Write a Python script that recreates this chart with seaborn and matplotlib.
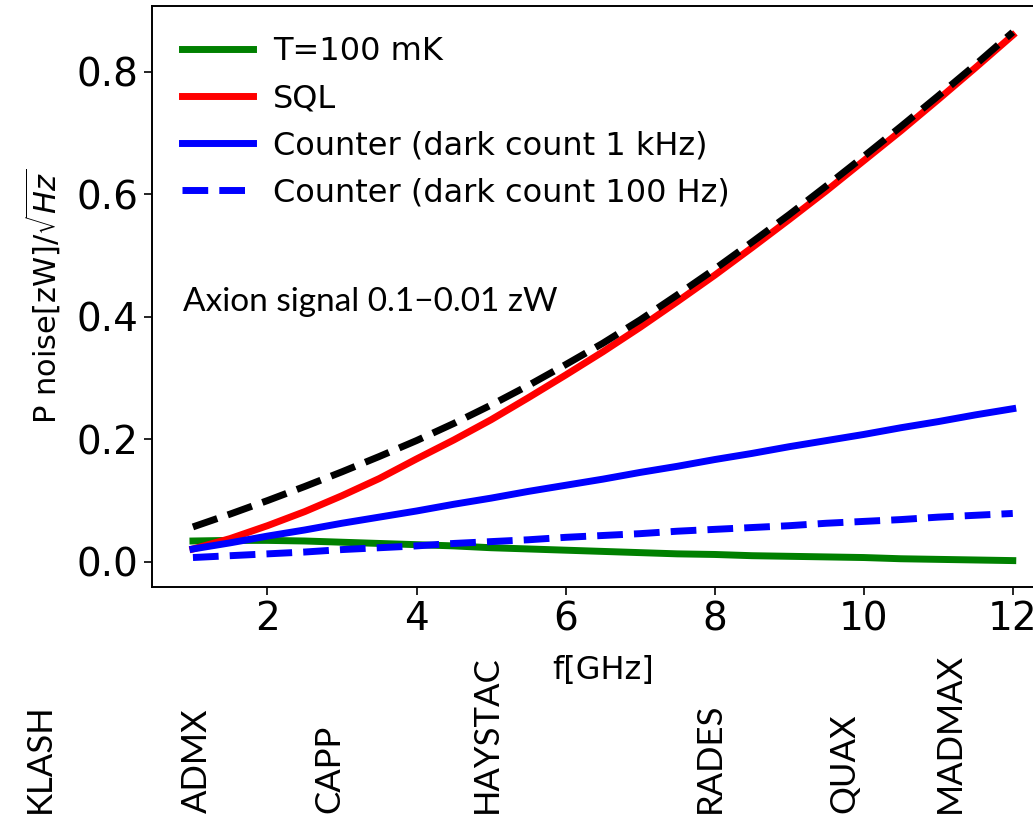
import numpy as np
import pandas as pd
import matplotlib
matplotlib.use('Agg')
import matplotlib.pyplot as plt
import seaborn as sns

#data (frequency in GHz, noise in zW/sqrt(Hz))
freq = [1.0, 1.5, 2.0, 2.5, 3.0, 3.5, 4.0, 4.5, 5.0, 5.5, 6.0, 6.5,
        7.0, 7.5, 8.0, 8.5, 9.0, 9.5, 10.0, 10.5, 11.0, 11.5, 12.0]
thermal_100mK = [0.034, 0.035, 0.035, 0.034, 0.032, 0.030, 0.028, 0.026, 0.023, 0.021, 0.019, 0.017,
                 0.015, 0.013, 0.012, 0.010, 0.009, 0.008, 0.007, 0.005, 0.004, 0.003, 0.002]
sql = [0.021, 0.038, 0.059, 0.082, 0.108, 0.136, 0.168, 0.199, 0.232, 0.268, 0.305, 0.343,
       0.383, 0.425, 0.468, 0.513, 0.559, 0.606, 0.655, 0.704, 0.755, 0.807, 0.860]
counter_1kHz = [0.021, 0.031, 0.042, 0.052, 0.063, 0.073, 0.083, 0.094, 0.104, 0.115, 0.125, 0.135,
                0.146, 0.156, 0.167, 0.177, 0.188, 0.198, 0.208, 0.219, 0.229, 0.240, 0.250]
counter_100Hz = [0.007, 0.010, 0.013, 0.016, 0.020, 0.023, 0.026, 0.030, 0.033, 0.036, 0.040, 0.043,
                 0.046, 0.050, 0.053, 0.056, 0.059, 0.063, 0.066, 0.069, 0.073, 0.076, 0.079]
total_noise = [0.057, 0.078, 0.100, 0.123, 0.147, 0.172, 0.198, 0.226, 0.256, 0.288, 0.322, 0.357,
               0.395, 0.436, 0.478, 0.522, 0.567, 0.614, 0.662, 0.711, 0.761, 0.812, 0.865]

series_labels = ['T=100 mK', 'SQL', 'Counter (dark count 1 kHz)', 'Counter (dark count 100 Hz)']

#experiments shown under the axis
experiments = ['KLASH', 'ADMX', 'CAPP', 'HAYSTAC', 'RADES', 'QUAX', 'MADMAX']
experiment_pos = [-1.05, 1.05, 2.83, 4.95, 7.93, 9.74, 11.15]

df = pd.DataFrame({'f': freq, 'thermal': thermal_100mK, 'sql': sql,
                   'c1k': counter_1kHz, 'c100': counter_100Hz, 'total': total_noise})

fig = plt.figure(figsize=(10.33, 8.21), dpi=100)
ax = fig.add_axes([0.1471, 0.285, 0.873, 0.708])

lw = 5
sns.lineplot(data=df, x='f', y='thermal', color='green', lw=lw, label=series_labels[0], ax=ax)
sns.lineplot(data=df, x='f', y='sql', color='red', lw=lw, label=series_labels[1], ax=ax)
sns.lineplot(data=df, x='f', y='c1k', color='blue', lw=lw, label=series_labels[2], ax=ax)
sns.lineplot(data=df, x='f', y='c100', color='blue', lw=lw, ls='--', label=series_labels[3], ax=ax)
sns.lineplot(data=df, x='f', y='total', color='black', lw=lw, ls='--', ax=ax)

ax.set_xlabel('f[GHz]', fontsize=23, labelpad=12)
ax.set_ylabel(r'P noise[zW]/$\sqrt{Hz}$', fontsize=22, labelpad=10)
ax.tick_params(labelsize=28, length=6, width=1.2)
for s in ax.spines.values():
    s.set_linewidth(1.4)

ax.legend(loc='upper left', frameon=False, fontsize=23, labelspacing=0.5,
          handlelength=2.2, handletextpad=0.65, borderaxespad=0.55)

ax.text(0.86, 0.41, 'Axion signal 0.1\u22120.01 zW', fontsize=24, family='Lato',
        va='baseline', ha='left')

for name, pos in zip(experiments, experiment_pos):
    ax.text(pos, -0.411, name, rotation=90, ha='center', va='bottom', fontsize=25,
            family='Lato', clip_on=False)

fig.savefig('out.png', dpi=100)
